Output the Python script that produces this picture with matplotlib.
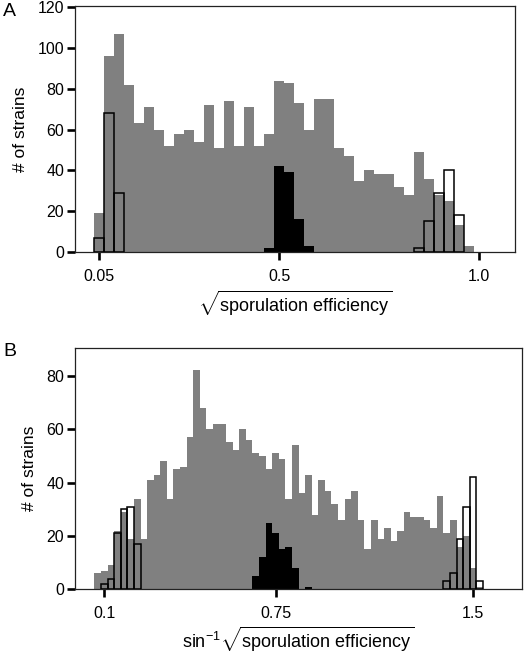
import numpy as np
import matplotlib
matplotlib.use("Agg")
import matplotlib.pyplot as plt

plt.rcParams['font.family'] = ['Liberation Sans', 'DejaVu Sans']
plt.rcParams['mathtext.fontset'] = 'custom'
plt.rcParams['mathtext.rm'] = 'Liberation Sans'
plt.rcParams['mathtext.it'] = 'Liberation Sans:italic'
plt.rcParams['mathtext.bf'] = 'Liberation Sans:bold'

BIN = 0.025

# ---------------- Panel A data (sqrt sporulation efficiency) ----------------
a_gray_start = 0.05
a_gray = [19, 96, 107, 82, 63, 71, 60, 52, 58, 60, 54, 72, 51, 74, 52, 71, 52, 58,
          84, 83, 73, 60, 75, 75, 51, 47, 35, 40, 38, 38, 32, 28, 49, 36, 28, 25, 13, 3]
a_low_start = 0.05
a_low = [7, 68, 29]
a_mid_start = 0.475
a_mid = [2, 42, 39, 16, 3]
a_high_start = 0.85
a_high = [2, 15, 29, 40, 18]
a_xticks = [0.05, 0.5, 1.0]
a_xticklabels = ['0.05', '0.5', '1.0']
a_yticks = [0, 20, 40, 60, 80, 100, 120]

# ---------------- Panel B data (arcsin sqrt sporulation efficiency) ----------------
b_gray_start = 0.075
b_gray = [6, 7, 9, 22, 29, 19, 34, 19, 41, 43, 48, 34, 45, 46, 57, 82, 68, 60, 62, 62,
          55, 52, 60, 56, 51, 50, 45, 51, 49, 34, 54, 36, 43, 28, 41, 37, 32, 26, 34, 37,
          26, 15, 26, 19, 23, 18, 22, 29, 27, 27, 26, 23, 35, 21, 26, 16, 20, 8, 1]
b_low_start = 0.1
b_low = [2, 4, 21, 30, 31, 17]
b_mid_start = 0.675
b_mid = [5, 12, 25, 21, 15, 16, 8, 0, 1]
b_high_start = 1.4
b_high = [3, 6, 19, 31, 42, 3]
b_xticks = [0.1, 0.75, 1.5]
b_xticklabels = ['0.1', '0.75', '1.5']
b_yticks = [0, 20, 40, 60, 80]


def centers(start, vals):
    return start + BIN * np.arange(len(vals))


GRAY = '#808080'

fig = plt.figure(figsize=(5.25, 6.55), dpi=100)
W, H = 525.0, 655.0
axA = fig.add_axes([74.7 / W, 1 - 252 / H, (515.3 - 74.7) / W, (252 - 6) / H])
axB = fig.add_axes([74.7 / W, 1 - 589.3 / H, (522.3 - 74.7) / W, (589.3 - 348) / H])


def draw(ax, gs, g, ls, l, ms, m, hs, h):
    ax.bar(centers(gs, g), g, width=BIN, color=GRAY, linewidth=0, zorder=1)
    ax.bar(centers(ms, m), m, width=BIN, color='black', linewidth=0, zorder=2)
    for s, v in ((ls, l), (hs, h)):
        ax.bar(centers(s, v), v, width=BIN, facecolor='none', edgecolor='black',
               linewidth=1.1, zorder=3)
    for sp in ax.spines.values():
        sp.set_linewidth(0.9)
        sp.set_color('#222222')
    ax.tick_params(axis='both', which='major', direction='out', labelsize=11.5,
                   width=1.9, length=5.5, color='black')
    ax.tick_params(axis='y', pad=2)
    ax.tick_params(axis='x', pad=6.5)


draw(axA, a_gray_start, a_gray, a_low_start, a_low, a_mid_start, a_mid,
     a_high_start, a_high)
axA.set_xlim(-0.0115, 1.0908)
axA.set_ylim(0, 120.6)
axA.set_xticks(a_xticks)
axA.set_xticklabels(a_xticklabels)
axA.set_yticks(a_yticks)
axA.set_ylabel('# of strains', fontsize=12.5, labelpad=7)
axA.set_xlabel(r'$\sqrt{\mathrm{sporulation\ efficiency}}$', fontsize=13, labelpad=4)

draw(axB, b_gray_start, b_gray, b_low_start, b_low, b_mid_start, b_mid,
     b_high_start, b_high)
axB.set_xlim(-0.0125, 1.687)
axB.set_ylim(0, 90.4)
axB.set_xticks(b_xticks)
axB.set_xticklabels(b_xticklabels)
axB.set_yticks(b_yticks)
axB.set_ylabel('# of strains', fontsize=12.5, labelpad=7)
axB.set_xlabel(r'$\sin^{-1}\!\sqrt{\mathrm{sporulation\ efficiency}}$', fontsize=13,
               labelpad=3)

fig.text(3 / W, 1 - 11 / H, 'A', fontsize=14, va='center', ha='left')
fig.text(3 / W, 1 - 351 / H, 'B', fontsize=14, va='center', ha='left')

fig.savefig('out.png', dpi=100)
